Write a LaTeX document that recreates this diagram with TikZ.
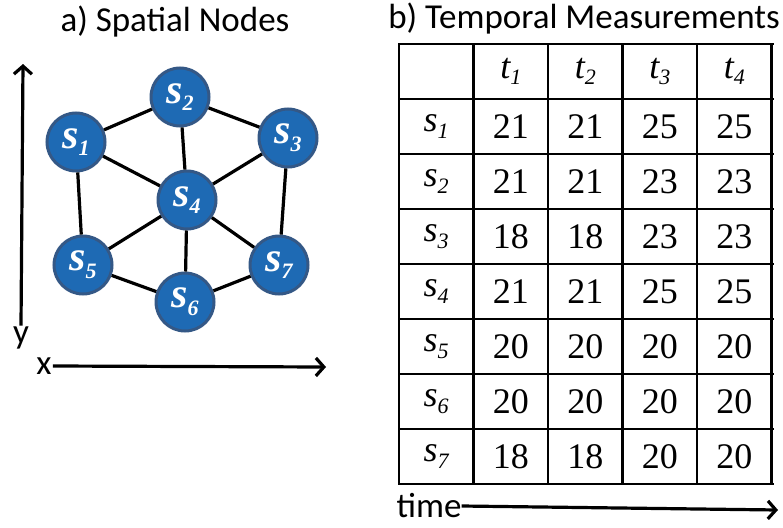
\documentclass[tikz,border=0pt]{standalone}
\usepackage{fontspec}
\setmainfont{Liberation Serif}
\newfontfamily\tablefont{Liberation Serif}
\newfontfamily\labelfont{Carlito}
\usetikzlibrary{arrows.meta}
\definecolor{sitefill}{RGB}{30,106,180}
\definecolor{siteedge}{RGB}{52,88,134}
\newcommand{\idx}[2]{{\itshape #1}\raisebox{-0.4ex}{\fontsize{22}{22}\selectfont\itshape #2}}

\begin{document}
\begin{tikzpicture}[x=1pt,y=-1pt]
				\tikzset{site/.style={circle,draw=siteedge,line width=3pt,fill=sitefill,minimum size=58pt,inner sep=0pt,text=white,font=\tablefont\fontsize{42}{42}\selectfont\bfseries}}
				\tikzset{link/.style={line width=3.2pt}}
				\tikzset{axis/.style={line width=3.2pt,-{Straight Barb[length=8pt,width=18pt]}}}
				\tikzset{heading/.style={font=\labelfont\fontsize{35}{40}\selectfont}}
				\tikzset{cell/.style={inner sep=0pt,font=\tablefont\fontsize{36}{40}\selectfont}}
				\useasboundingbox (0,0) rectangle (783,527);
				% a) spatial nodes
				\node[heading] (title-a) at (175,22) {a) Spatial Nodes};
				\node[site] (s2) at (180,97) {\idx{s}{2}};
				\node[site] (s1) at (76,142) {\idx{s}{1}};
				\node[site] (s3) at (288,138) {\idx{s}{3}};
				\node[site] (s4) at (187,200) {\idx{s}{4}};
				\node[site] (s5) at (83,265) {\idx{s}{5}};
				\node[site] (s7) at (279,265) {\idx{s}{7}};
				\node[site] (s6) at (185,302) {\idx{s}{6}};
				\draw[link] (s1) -- (s2) (s2) -- (s3) (s1) -- (s4) (s2) -- (s4) (s3) -- (s4) (s1) -- (s5)
					(s3) -- (s7) (s4) -- (s5) (s4) -- (s6) (s4) -- (s7) (s5) -- (s6) (s6) -- (s7);
				\node[heading,inner sep=1pt] (ylabel) at (21,338) {y};
				\node[heading,inner sep=1pt] (xlabel) at (44,366) {x};
				\coordinate (ytop) at (23,64);
				\coordinate (xend) at (326,367);
				\draw[axis] (ylabel.north) -- (ytop);
				\draw[axis] (xlabel.east) -- (xend);
				% b) temporal measurements
				\node[heading] (title-b) at (584,19) {b) Temporal Measurements};
				\foreach \k in {0,...,5} \draw[line width=2.2pt] ({399+74.5*\k},44) -- ({399+74.5*\k},484);
				\foreach \k in {0,...,8} \draw[line width=2.2pt] (398,{44+55*\k}) -- (773.5,{44+55*\k});
				\foreach \c in {1,...,4} \node[cell] (t\c) at ({399+74.5*(\c+0.5)},71.5) {\idx{t}{\c}};
				\foreach \vals [count=\r] in {{21,21,25,25},{21,21,23,23},{18,18,23,23},{21,21,25,25},{20,20,20,20},{20,20,20,20},{18,18,20,20}} {
					\node[cell] (row\r) at (436,{71.5+55*\r}) {\idx{s}{\r}};
					\foreach \v [count=\c] in \vals \node[cell] (v\r\c) at ({399+74.5*(\c+0.5)},{72+55*\r}) {\v};
				}
				\node[heading,inner sep=0pt] (time) at (429,506) {time};
				\coordinate (tend) at (778,510);
				\draw[axis] (time.east) -- (tend);
			\end{tikzpicture}
\end{document}
